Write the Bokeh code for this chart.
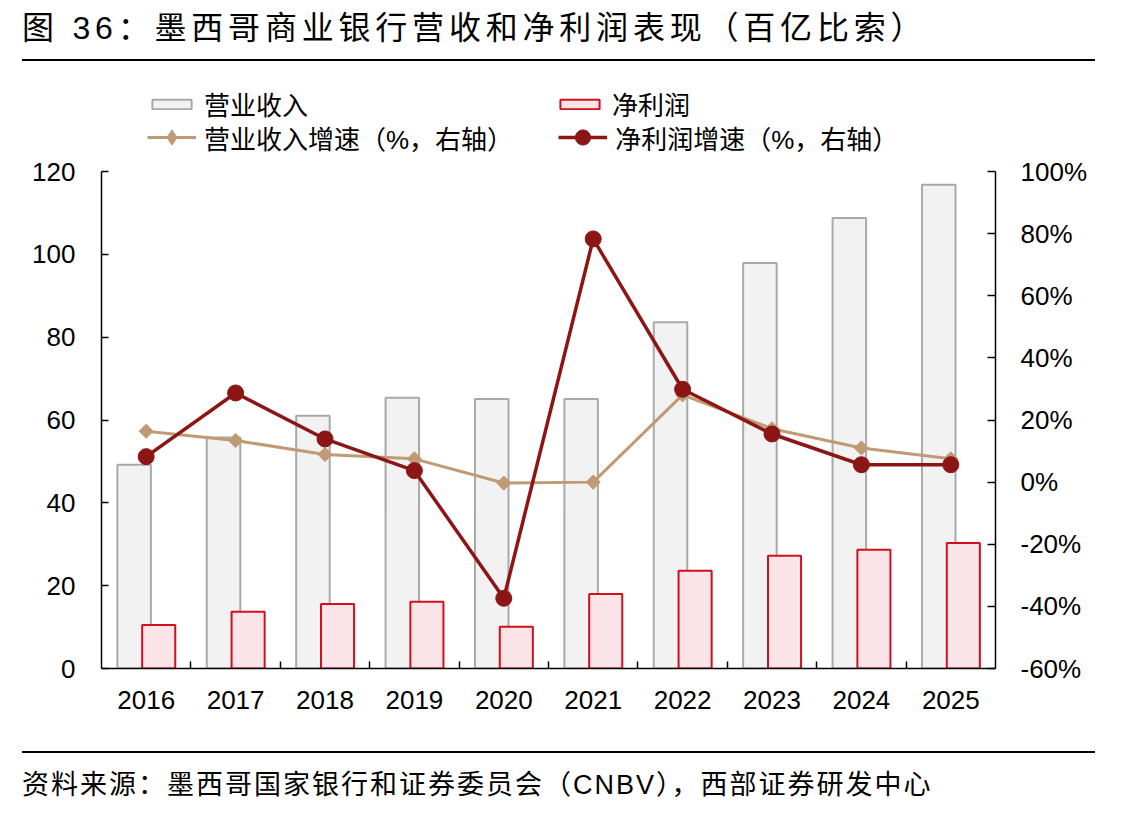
from bokeh.plotting import figure
from bokeh.models import (ColumnDataSource, Range1d, LinearAxis, FixedTicker,
                          PrintfTickFormatter, Legend, LegendItem, Div)
from bokeh.transform import dodge
from bokeh.layouts import column
from bokeh.embed import file_html
from bokeh.resources import INLINE
import numpy as np

# ---- data (百亿比索 / %) ----
years = ["2016", "2017", "2018", "2019", "2020", "2021", "2022", "2023", "2024", "2025"]
revenue = [49.2, 55.8, 61.0, 65.4, 65.1, 65.1, 83.6, 97.9, 108.8, 116.8]
net_profit = [10.5, 13.7, 15.6, 16.1, 10.1, 18.0, 23.6, 27.2, 28.7, 30.3]
revenue_growth = [16.4, 13.4, 8.9, 7.5, -0.3, 0.0, 28.1, 17.2, 11.0, 7.5]
net_profit_growth = [8.2, 28.7, 13.9, 3.7, -37.4, 78.3, 29.9, 15.5, 5.6, 5.6]
left_ticks = [0, 20, 40, 60, 80, 100, 120]
right_ticks = [-60, -40, -20, 0, 20, 40, 60, 80, 100]

title_text = "图 36：墨西哥商业银行营收和净利润表现（百亿比索）"
source_text = "资料来源：墨西哥国家银行和证券委员会（CNBV），西部证券研发中心"

FONT_MIX = "Liberation Sans, Noto Sans CJK SC"
FONT_NUM = "Liberation Sans"
CSS_FONT = "'Liberation Sans', 'Noto Sans CJK SC', sans-serif"

GRAY_FILL, GRAY_LINE = "#f2f2f2", "#a9a9a9"
PINK_FILL, RED_LINE = "#fae4e8", "#d0101e"
TAN = "#c09a74"
DARK_RED = "#8c1515"

W = 1144

# ---- heading: title and rule ----
head = Div(
    text=(
        '<div style="position:relative;width:1144px;height:70px;">'
        f'<div style="position:absolute;left:22px;top:8px;font-family:{CSS_FONT};'
        'font-size:32px;letter-spacing:4.8px;line-height:40px;white-space:nowrap;color:#000;">'
        f'{title_text}</div>'
        '<div style="position:absolute;left:22px;top:59px;width:1073px;height:2px;background:#000;"></div>'
        '</div>'
    ),
    width=W, height=70, margin=0,
)

# ---- main chart ----
# The plotting frame reaches up to hold the legend; the axes are bounded to
# the value ranges so their lines stop at the top tick.
AXIS_PX = 497          # pixel length of the value axes
EXTRA_PX = 91          # frame space above the top tick for the legend
LEFT_MIN, LEFT_MAX = 0, 120
RIGHT_MIN, RIGHT_MAX = -60, 100
left_end = LEFT_MAX + (LEFT_MAX - LEFT_MIN) * EXTRA_PX / AXIS_PX
right_end = RIGHT_MAX + (RIGHT_MAX - RIGHT_MIN) * EXTRA_PX / AXIS_PX

idx = np.arange(len(years)) + 0.5
src = ColumnDataSource(data=dict(x=idx, year=years, revenue=revenue, net_profit=net_profit,
                                 revenue_growth=revenue_growth,
                                 net_profit_growth=net_profit_growth))

p = figure(width=W, height=670, x_range=Range1d(0, len(years)),
           y_range=Range1d(LEFT_MIN, left_end),
           output_backend="svg", toolbar_location=None, title=None,
           x_axis_type=None, y_axis_type=None,
           min_border_left=101, min_border_right=149, min_border_top=10,
           min_border_bottom=72)
p.grid.visible = False
p.outline_line_color = None
p.extra_y_ranges = {"pct": Range1d(RIGHT_MIN, right_end)}


def style_axis(ax):
    ax.axis_line_color = "black"
    ax.axis_line_width = 1.5
    ax.major_tick_line_color = "black"
    ax.major_tick_line_width = 1.5
    ax.minor_tick_line_color = "black"
    ax.minor_tick_line_width = 1.5
    ax.major_label_text_font = FONT_NUM
    ax.major_label_text_font_size = "26px"
    ax.major_label_text_color = "black"


ax_left = LinearAxis(ticker=FixedTicker(ticks=left_ticks), bounds=(LEFT_MIN, LEFT_MAX),
                     major_tick_in=7, major_tick_out=0,
                     minor_tick_in=0, minor_tick_out=0, major_label_standoff=26)
style_axis(ax_left)
p.add_layout(ax_left, "left")

ax_right = LinearAxis(y_range_name="pct", ticker=FixedTicker(ticks=right_ticks),
                      bounds=(RIGHT_MIN, RIGHT_MAX),
                      formatter=PrintfTickFormatter(format="%d%%"),
                      major_tick_in=8, major_tick_out=0, minor_tick_in=0, minor_tick_out=0,
                      major_label_standoff=25)
style_axis(ax_right)
p.add_layout(ax_right, "right")

ax_bottom = LinearAxis(ticker=FixedTicker(ticks=list(idx), minor_ticks=list(range(1, len(years)))),
                       major_label_overrides={float(x): y for x, y in zip(idx, years)},
                       major_tick_in=0, major_tick_out=0, minor_tick_in=7, minor_tick_out=0,
                       major_label_standoff=22)
style_axis(ax_bottom)
p.add_layout(ax_bottom, "below")

r_rev = p.vbar(x=dodge("x", -0.135), top="revenue", width=0.375, source=src,
               fill_color=GRAY_FILL, line_color=GRAY_LINE, line_width=2)
r_np = p.vbar(x=dodge("x", 0.14), top="net_profit", width=0.37, source=src,
              fill_color=PINK_FILL, line_color=RED_LINE, line_width=2)

l_rg = p.line(x="x", y="revenue_growth", source=src, y_range_name="pct",
              line_color=TAN, line_width=3)
m_rg = p.scatter(x="x", y="revenue_growth", source=src, y_range_name="pct",
                 marker="square", angle=np.pi / 4, size=10,
                 fill_color=TAN, line_color=TAN)
l_ng = p.line(x="x", y="net_profit_growth", source=src, y_range_name="pct",
              line_color=DARK_RED, line_width=3.5)
m_ng = p.scatter(x="x", y="net_profit_growth", source=src, y_range_name="pct",
                 marker="circle", size=16, fill_color=DARK_RED, line_color=DARK_RED)

# diamond swatch used only by the legend entry (legend glyphs ignore marker rotation)
key_rg = p.scatter(x="x", y="revenue_growth", source=src, y_range_name="pct",
                   marker="diamond", fill_color=TAN, line_color=TAN, visible=False)


def make_legend(items, gh, spacing, loc):
    return Legend(items=items, location=loc, orientation="horizontal",
                  glyph_width=49, glyph_height=gh, label_standoff=8,
                  label_text_font=FONT_MIX, label_text_font_size="26px",
                  label_text_color="black", label_height=gh,
                  padding=0, margin=0, spacing=spacing,
                  inactive_fill_alpha=0,
                  border_line_color=None, background_fill_alpha=0)


leg_bars = make_legend([LegendItem(label="营业收入", renderers=[r_rev]),
                        LegendItem(label="净利润", renderers=[r_np])], 12, 247, (46, 546))
leg_lines = make_legend([LegendItem(label="营业收入增速（%，右轴）", renderers=[l_rg, key_rg]),
                         LegendItem(label="净利润增速（%，右轴）", renderers=[l_ng, m_ng])], 38, 45, (46, 512))
p.add_layout(leg_bars)
p.add_layout(leg_lines)

# ---- footer: rule and source note ----
foot = Div(
    text=(
        '<div style="position:relative;width:1144px;height:77px;">'
        '<div style="position:absolute;left:22px;top:11px;width:1073px;height:2px;background:#000;"></div>'
        f'<div style="position:absolute;left:22px;top:25px;font-family:{CSS_FONT};'
        'font-size:27px;letter-spacing:2px;line-height:40px;white-space:nowrap;color:#000;">'
        f'{source_text}</div>'
        '</div>'
    ),
    width=W, height=77, margin=0,
)

layout = column(head, p, foot, spacing=0)
open("out.html", "w").write(file_html(layout, INLINE))
